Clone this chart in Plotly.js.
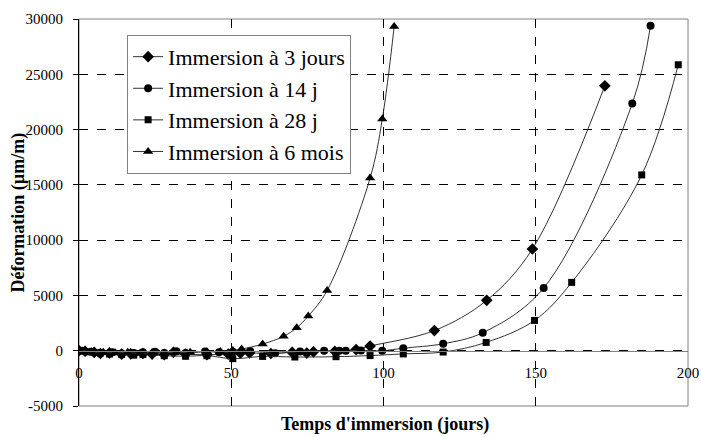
<!DOCTYPE html>
<html>
<head>
<meta charset="utf-8">
<script src="https://cdn.plot.ly/plotly-3.0.1.min.js"></script>
<style>html,body{margin:0;padding:0;background:#fff;}#chart{width:701px;height:437px;}</style>
</head>
<body>
<div id="chart"></div>
<script>
// Series names
const seriesNames = ["Immersion à 3 jours", "Immersion à 14 j", "Immersion à 28 j", "Immersion à 6 mois"];

// Immersion à 3 jours (diamonds)
const days3j = [0,2,5,7,10,14,17,21,24,28,31,35,42,49,53,56,63,70,74.8,77,84,91,95.6,116.7,133.9,148.9,172.7];
const def3j  = [0,-50,-150,-250,-200,-300,-280,-250,-300,-350,-150,-300,-360,-300,-210,-200,-250,-150,-210,-100,-50,100,420,1820,4560,9200,23960];

// Immersion à 14 j (circles)
const days14j = [0,1,4,7,11,14,18,21,25,28,32,35,41.4,46,50.5,56.2,64.4,72.6,80.5,85.5,87.6,92.6,99.6,106.5,119.6,132.6,152.6,181.7,187.7];
const def14j  = [0,0,-100,-200,-150,-250,-200,-150,-100,-200,-50,-200,-60,-150,-100,-30,-240,-60,0,0,0,30,0,230,630,1630,5670,22360,29390];

// Immersion à 28 j (squares)
const days28j = [0,3,7,10,14,18,21,28,35,42,50.5,60.3,70.9,84.4,95.6,106.5,119.6,133.7,149.6,161.8,184.8,196.8];
const def28j  = [0,-100,-200,-300,-350,-400,-350,-450,-500,-450,-720,-515,-570,-540,-440,-290,-120,750,2740,6180,15900,25860];

// Immersion à 6 mois (triangles)
const days6m = [0,4,8,12,16,20,24,28,32,36.5,42,46.4,50.5,53.4,60.3,67.2,71.5,75.3,81.5,95.6,99.6,103.5];
const def6m  = [0,-100,-150,-200,-150,-250,-200,-200,-150,-150,-100,-60,30,150,600,1300,2080,3130,5450,15615,20950,29320];

// Axis ticks
const xTicks = [0,50,100,150,200];
const yTicks = [-5000,0,5000,10000,15000,20000,25000,30000];

const serif = "Liberation Serif";
const lineStyle = {color: "#333333", width: 1, shape: "spline", smoothing: 1};

function mk(x, y, name, symbol, size) {
  return {
    x: x, y: y, name: name, type: "scatter", mode: "lines+markers",
    line: lineStyle,
    marker: {symbol: symbol, size: size, color: "#000000", line: {width: 0}}
  };
}

const data = [
  mk(days3j, def3j, seriesNames[0], "diamond", 9),
  mk(days14j, def14j, seriesNames[1], "circle", 8),
  mk(days28j, def28j, seriesNames[2], "square", 7),
  mk(days6m, def6m, seriesNames[3], "triangle-up", 9)
];

const layout = {
  width: 701, height: 437,
  margin: {l: 79, r: 13, t: 19, b: 31, pad: 0},
  paper_bgcolor: "#ffffff", plot_bgcolor: "#ffffff",
  font: {family: serif, color: "#000000", size: 15},
  showlegend: true,
  legend: {
    x: 0.079, y: 0.959, xanchor: "left", yanchor: "top",
    bgcolor: "#ffffff", bordercolor: "#808080", borderwidth: 1,
    font: {family: serif, size: 22, color: "#000000"},
    itemwidth: 30
  },
  xaxis: {
    range: [0, 200], tickvals: xTicks, ticktext: xTicks.map(String),
    anchor: "free", position: 1/7,
    showline: true, linecolor: "#808080", linewidth: 1,
    ticks: "outside", ticklen: 8, tickcolor: "rgba(0,0,0,0)",
    showgrid: true, gridcolor: "#000000", gridwidth: 1, griddash: "dash",
    zeroline: false,
    tickfont: {family: serif, size: 15, color: "#000000"}
  },
  yaxis: {
    range: [-5000, 30000], tickvals: yTicks, ticktext: yTicks.map(String),
    showline: true, linecolor: "#000000", linewidth: 1,
    ticks: "outside", ticklen: 5, tickcolor: "#000000",
    ticklabelstandoff: 7,
    showgrid: true, gridcolor: "#000000", gridwidth: 1, griddash: "dash",
    zeroline: false,
    tickfont: {family: serif, size: 15, color: "#000000"}
  },
  shapes: [
    {type: "rect", xref: "paper", yref: "paper", x0: 0, x1: 1, y0: 0, y1: 1,
     line: {color: "#808080", width: 1}, fillcolor: "rgba(0,0,0,0)", layer: "below"}
  ],
  annotations: [
    {text: "<b>Temps d'immersion (jours)</b>", xref: "paper", yref: "paper",
     x: 0.502, y: -0.049, xanchor: "center", yanchor: "middle", showarrow: false,
     font: {family: serif, size: 18, color: "#000000"}},
    {text: "<b>Déformation (µm/m)</b>", xref: "paper", yref: "paper",
     x: -0.1, y: 0.5, xanchor: "center", yanchor: "middle", showarrow: false, textangle: -90,
     font: {family: serif, size: 18, color: "#000000"}}
  ]
};

Plotly.newPlot("chart", data, layout, {displayModeBar: false});
</script>
</body>
</html>
